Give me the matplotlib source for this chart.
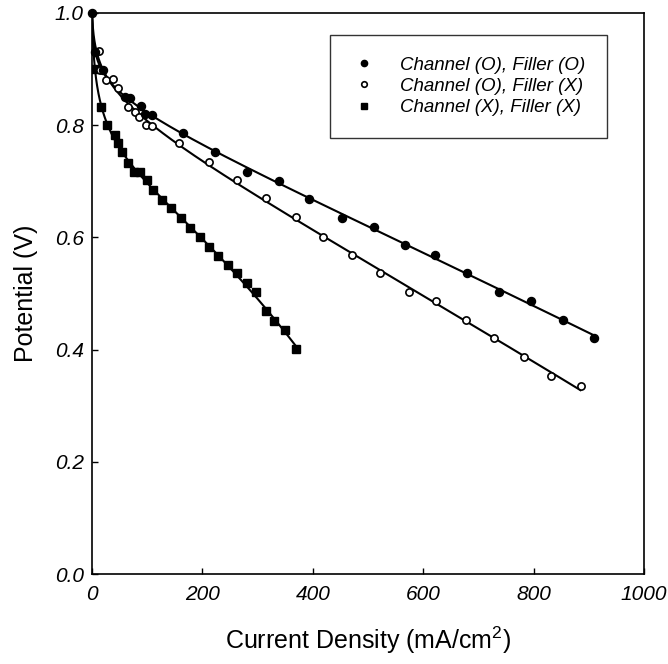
import numpy as np
import matplotlib
matplotlib.use("Agg")
import matplotlib.pyplot as plt
from matplotlib.lines import Line2D

plt.rcParams['font.family'] = ['Liberation Sans', 'DejaVu Sans']
plt.rcParams['mathtext.fontset'] = 'custom'
plt.rcParams['mathtext.rm'] = 'Liberation Sans'
plt.rcParams['mathtext.it'] = 'Liberation Sans:italic'

# ---- data ----
labels = ["Channel (O), Filler (O)", "Channel (O), Filler (X)", "Channel (X), Filler (X)"]

cur_oo = [0, 5, 20, 60, 69, 88, 96, 108, 165, 223, 281, 339, 394, 453, 510, 567,
          622, 679, 737, 795, 853, 909]
pot_oo = [1.000, 0.930, 0.898, 0.850, 0.849, 0.834, 0.820, 0.818, 0.786, 0.752, 0.717,
          0.701, 0.669, 0.635, 0.619, 0.586, 0.569, 0.536, 0.503, 0.487, 0.453, 0.421]

cur_ox = [0, 13, 14, 25, 38, 47, 66, 78, 85, 97, 108, 158, 212, 263, 315, 369, 418,
          471, 521, 574, 624, 677, 729, 782, 832, 885]
pot_ox = [1.000, 0.932, 0.898, 0.880, 0.882, 0.866, 0.832, 0.824, 0.815, 0.801, 0.798,
          0.768, 0.734, 0.702, 0.670, 0.636, 0.601, 0.569, 0.536, 0.503, 0.487, 0.453,
          0.421, 0.387, 0.353, 0.335]

cur_xx = [0, 5, 17, 27, 42, 48, 54, 65, 76, 87, 99, 110, 127, 144, 161, 177, 195, 212,
          228, 246, 263, 280, 298, 316, 330, 350, 369]
pot_xx = [1.000, 0.900, 0.833, 0.800, 0.782, 0.769, 0.753, 0.732, 0.717, 0.717, 0.702,
          0.684, 0.667, 0.652, 0.634, 0.617, 0.600, 0.583, 0.566, 0.550, 0.536, 0.519,
          0.502, 0.468, 0.451, 0.435, 0.401]

xticks = [0, 200, 400, 600, 800, 1000]
yticks = [0.0, 0.2, 0.4, 0.6, 0.8, 1.0]


def smooth_fit(x, y):
    x = np.asarray(x, float)
    y = np.asarray(y, float)
    best = None
    for c in np.linspace(0.5, 40, 80):
        A = np.column_stack([np.ones_like(x), x, x ** 2, np.log1p(x / c)])
        coef, *_ = np.linalg.lstsq(A, y, rcond=None)
        r = np.sum((A @ coef - y) ** 2)
        if best is None or r < best[0]:
            best = (r, c, coef)
    _, c, coef = best
    xs = np.linspace(x.min(), x.max(), 600)
    ys = coef[0] + coef[1] * xs + coef[2] * xs ** 2 + coef[3] * np.log1p(xs / c)
    return xs, ys


fig = plt.figure(figsize=(6.68, 6.64), dpi=100)
ax = fig.add_axes([92 / 668, 1 - 574 / 664, 552 / 668, 561 / 664])

for cx, cy in [(cur_xx, pot_xx), (cur_ox, pot_ox), (cur_oo, pot_oo)]:
    xs, ys = smooth_fit(cx, cy)
    ax.plot(xs, ys, color='black', lw=1.5, zorder=2)

ax.plot(cur_xx, pot_xx, ls='none', marker='s', ms=5.2, mfc='black', mec='black',
        markevery=slice(1, None), zorder=3)
ax.plot(cur_ox, pot_ox, ls='none', marker='o', ms=5.2, mfc='white', mec='black', mew=1.2,
        markevery=slice(1, None), zorder=3)
ax.plot(cur_oo, pot_oo, ls='none', marker='o', ms=5.8, mfc='black', mec='black', zorder=4,
        clip_on=False)

ax.set_xlim(0, 1000)
ax.set_ylim(0.0, 1.0)
ax.set_xticks(xticks)
ax.set_yticks(yticks)
ax.set_xticklabels([f"{v:d}" for v in xticks], fontstyle='italic', fontsize=15)
ax.set_yticklabels([f"{v:.1f}" for v in yticks], fontstyle='italic', fontsize=15)
ax.tick_params(direction='in', length=4, width=1.0)
ax.tick_params(axis='x', pad=8)
ax.tick_params(axis='y', pad=6)
for s in ax.spines.values():
    s.set_linewidth(1.2)

ax.set_xlabel("Current Density (mA/cm$^2$)", fontsize=18, labelpad=15)
ax.set_ylabel("Potential (V)", fontsize=18, labelpad=12)

handles = [
    Line2D([], [], ls='none', marker='o', ms=4.5, mfc='black', mec='black'),
    Line2D([], [], ls='none', marker='o', ms=4.0, mfc='white', mec='black', mew=1.2),
    Line2D([], [], ls='none', marker='s', ms=4.0, mfc='black', mec='black'),
]
leg = ax.legend(handles, labels, loc='upper right',
                bbox_to_anchor=((607 - 92) / 552, (574 - 35) / 561),
                borderaxespad=0, frameon=True, fancybox=False, edgecolor='black',
                prop={'family': 'Liberation Sans', 'style': 'italic', 'size': 13.5},
                handlelength=1.3, handletextpad=1.3, labelspacing=0.22, borderpad=1.15)
leg.get_frame().set_linewidth(1.0)

fig.savefig("out.png", dpi=100)
